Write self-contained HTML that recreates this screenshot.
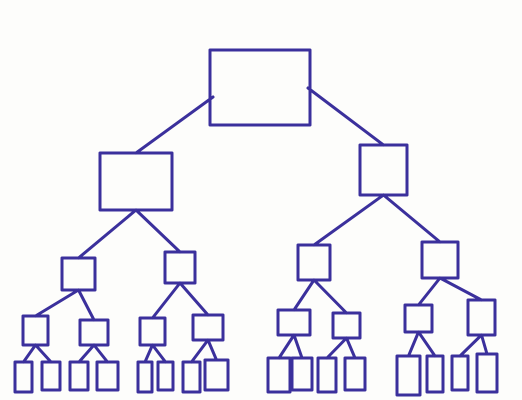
<!DOCTYPE html>
<html><head><meta charset="utf-8"><style>html,body{margin:0;padding:0;background:#fdfdfb;}svg{display:block}</style></head>
<body>
<svg width="522" height="400" viewBox="0 0 522 400" xmlns="http://www.w3.org/2000/svg">
<g id="g" fill="none" stroke="#3b309c" stroke-width="3" stroke-linejoin="round" stroke-linecap="round"></g>
</svg>
<script>
// boxes: x1,y1,x2,y2
const boxes = [
 [210,50,310,125],
 [100,153,172,210],[360,145,407,195],
 [62,258,95,290],[165,252,195,283],[298,245,330,280],[422,242,458,278],
 [23,316,48,345],[80,320,108,345],[140,318,165,345],[193,315,223,340],
 [278,310,310,335],[333,313,360,338],[405,305,432,332],[468,300,495,335],
 [15,362,32,392],[42,362,60,390],[70,362,88,390],[97,362,118,390],
 [138,362,152,392],[158,362,173,390],[183,362,200,392],[205,360,228,390],
 [268,358,290,392],[292,358,312,390],[318,358,336,392],[345,358,365,390],
 [397,356,420,395],[427,356,443,392],[452,356,468,390],[477,354,497,392]
];
// edges: [parentIndex, childIndex]
const edges = [
 [0,1],[0,2],[1,3],[1,4],[2,5],[2,6],
 [3,7],[3,8],[4,9],[4,10],[5,11],[5,12],[6,13],[6,14],
 [7,15],[7,16],[8,17],[8,18],[9,19],[9,20],[10,21],[10,22],
 [11,23],[11,24],[12,25],[12,26],[13,27],[13,28],[14,29],[14,30]
];
const g=document.getElementById('g');
const NS='http://www.w3.org/2000/svg';
edges.forEach((e,i)=>{
  const p=boxes[e[0]],c=boxes[e[1]];
  const l=document.createElementNS(NS,'line');
  const px=(p[0]+p[2])/2, py=p[3];
  const cx=(c[0]+c[2])/2, cy=c[1];
  let sx=px, sy=py;
  if(e[0]===0){ sx = cx<px ? p[0]+3 : p[2]-2; sy = cx<px ? 97 : 88; }
  l.setAttribute('x1',sx);l.setAttribute('y1',sy);
  l.setAttribute('x2',cx);l.setAttribute('y2',cy);
  
  
  g.appendChild(l);
});
boxes.forEach((b,i)=>{
  const r=document.createElementNS(NS,'rect');
  r.setAttribute('x',b[0]);r.setAttribute('y',b[1]);
  r.setAttribute('width',b[2]-b[0]);r.setAttribute('height',b[3]-b[1]);
  
  
  g.appendChild(r);
});
</script>
</body></html>
